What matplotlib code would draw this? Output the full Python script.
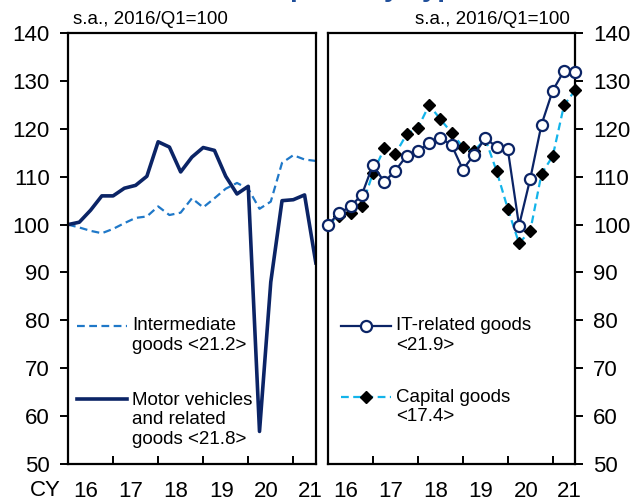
import matplotlib

matplotlib.use("Agg")
import matplotlib.pyplot as plt

plt.rcParams["font.family"] = ["Liberation Sans", "DejaVu Sans"]

# quarterly index, 2016/Q1 .. 2021/Q3 (s.a., 2016/Q1=100)
quarters = list(range(23))
intermediate = [100, 99.4, 98.7, 98.2, 99.1, 100.3, 101.4, 101.7, 103.8, 102.0,
                102.5, 105.5, 103.6, 105.5, 107.5, 108.7, 107.5, 103.3, 104.8,
                112.9, 114.5, 113.6, 113.3]
motor = [100, 100.5, 103.0, 106.0, 106.0, 107.6, 108.2, 110.1, 117.3, 116.2,
         111.0, 114.1, 116.1, 115.5, 110.1, 106.4, 108.0, 56.8, 88.0, 105.0,
         105.2, 106.2, 92.0]
it_goods = [100, 102.4, 103.8, 106.2, 112.5, 108.9, 111.3, 114.4, 115.3, 117.1,
            118.1, 116.6, 111.5, 114.6, 118.1, 116.2, 115.7, 99.8, 109.6, 120.9,
            128.0, 132.1, 131.8]
capital = [100, 101.9, 102.5, 103.8, 110.8, 115.9, 114.8, 118.9, 120.2, 125.0,
           122.0, 119.2, 116.2, 115.4, 117.9, 111.2, 103.3, 96.1, 98.7, 110.6,
           114.3, 124.9, 128.1]

year_labels = ["16", "17", "18", "19", "20", "21"]
year_ticks = [4, 8, 12, 16, 20]
label_pos = [1.6, 5.6, 9.6, 13.6, 17.6, 21.5]
y_ticks = list(range(50, 141, 10))

NAVY = "#0b2466"
MID_BLUE = "#1f78c8"
CYAN = "#13b4ea"

fig = plt.figure(figsize=(6.37, 5.01), dpi=100)
ax1 = fig.add_axes([0.1068, 0.0739, 0.389, 0.860])
ax2 = fig.add_axes([0.515, 0.0739, 0.388, 0.860])


def style(ax, side):
    ax.set_xlim(0, 22)
    ax.set_ylim(50, 140)
    for sp in ax.spines.values():
        sp.set_linewidth(1.6)
    ax.set_yticks(y_ticks)
    ax.set_xticks(year_ticks)
    ax.set_xticklabels([])
    ax.set_xticks(label_pos, minor=True)
    ax.set_xticklabels(year_labels, minor=True)
    ax.tick_params(axis="x", which="major", direction="in", length=6, width=1.4)
    ax.tick_params(axis="x", which="minor", length=0, pad=12.5, labelsize=16)
    ax.tick_params(axis="y", direction="out", length=6, width=1.4,
                   labelsize=16, pad=7)
    if side == "right":
        ax.yaxis.tick_right()


style(ax1, "left")
style(ax2, "right")

# left panel
ax1.plot(quarters, intermediate, color=MID_BLUE, lw=1.6, ls=(0, (3.5, 2)))
ax1.plot(quarters, motor, color=NAVY, lw=2.6)
ax1.text(0.02, 1.012, "s.a., 2016/Q1=100", transform=ax1.transAxes,
         fontsize=13.5, va="bottom", ha="left")
ax1.text(-0.09, -0.062, "CY", transform=ax1.transAxes, fontsize=16,
         ha="center", va="center")

# legend keys (left)
ax1.plot([0.036, 0.238], [0.320, 0.320], transform=ax1.transAxes,
         color=MID_BLUE, lw=1.6, ls=(0, (3.5, 2)))
ax1.text(0.258, 0.340, "Intermediate\ngoods <21.2>", transform=ax1.transAxes,
         fontsize=13.5, va="top", ha="left")
ax1.plot([0.036, 0.238], [0.151, 0.151], transform=ax1.transAxes,
         color=NAVY, lw=2.6)
ax1.text(0.258, 0.168, "Motor vehicles\nand related\ngoods <21.8>",
         transform=ax1.transAxes, fontsize=13.5, va="top", ha="left")

# right panel
ax2.plot(quarters, capital, color=CYAN, lw=1.6, ls=(0, (3.5, 2)),
         marker="D", ms=6, mfc="black", mec="black", zorder=3, clip_on=False)
ax2.plot(quarters, it_goods, color=NAVY, lw=1.6, marker="o", ms=8,
         mfc="white", mec=NAVY, mew=1.6, zorder=4, clip_on=False)
ax2.text(0.98, 1.012, "s.a., 2016/Q1=100", transform=ax2.transAxes,
         fontsize=13.5, va="bottom", ha="right")

# legend keys (right)
ax2.plot([0.053, 0.255], [0.320, 0.320], transform=ax2.transAxes,
         color=NAVY, lw=1.6)
ax2.plot([0.154], [0.320], transform=ax2.transAxes, marker="o", ms=8,
         mfc="white", mec=NAVY, mew=1.6)
ax2.text(0.275, 0.340, "IT-related goods\n<21.9>", transform=ax2.transAxes,
         fontsize=13.5, va="top", ha="left")
ax2.plot([0.053, 0.255], [0.155, 0.155], transform=ax2.transAxes,
         color=CYAN, lw=1.6, ls=(0, (3.5, 2)))
ax2.plot([0.154], [0.155], transform=ax2.transAxes, marker="D", ms=6,
         mfc="black", mec="black")
ax2.text(0.275, 0.175, "Capital goods\n<17.4>", transform=ax2.transAxes,
         fontsize=13.5, va="top", ha="left")

# title, mostly cut off at the top edge as in the source
fig.text(0.518, 1.007, "Real Exports by Type", fontsize=20, fontweight="bold",
         color="#1f4e9a", ha="center", va="baseline")

fig.savefig("out.png", dpi=100)
